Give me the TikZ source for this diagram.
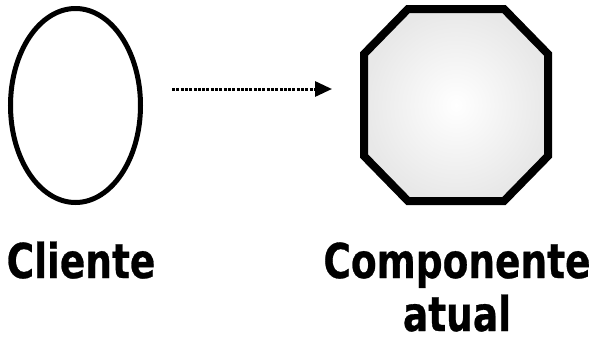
\documentclass[tikz,border=0pt]{standalone}
\usepackage{fontspec}
\setmainfont{DejaVu Sans}[BoldFeatures={FakeBold=0.7}]
\usetikzlibrary{shapes.geometric,arrows.meta}
\tikzset{
  px/.style={x=1pt,y=-1pt},
  lbl/.style={anchor=base,inner sep=0pt,font=\fontsize{37.5}{40}\selectfont\bfseries},
  clientshape/.style={ellipse,draw=black,line width=5pt,minimum width=130pt,minimum height=194pt,inner sep=0pt},
  compshape/.style={draw=black,line width=8pt,line join=miter,inner color=white,outer color=black!9},
  flow/.style={line width=3pt,dash pattern=on 3pt off 1.3pt,-{Triangle[length=17pt,width=15pt]}}
}
\newcommand{\tallt}[1]{\scalebox{1}[1.28]{#1}}
\begin{document}
\begin{tikzpicture}[px]
\useasboundingbox (0,0) rectangle (594,341);
\node[clientshape] (cliente) at (75.5,105.5) {};
\path[compshape] (408,9) -- (504,9) -- (548,54) -- (548,156) -- (504,201) -- (408,201) -- (364,156) -- (364,54) -- cycle;
\coordinate (comp) at (456,105);
\coordinate (a1) at (172,89);
\coordinate (a2) at (332,89);
\draw[flow] (a1) -- (a2);
\node[lbl] (tcli) at (81,278) {\tallt{Cliente}};
\node[lbl] (tcomp) at (457,278) {\tallt{Componente}};
\node[lbl] (tatual) at (457,331) {\tallt{atual}};
\end{tikzpicture}
\end{document}
